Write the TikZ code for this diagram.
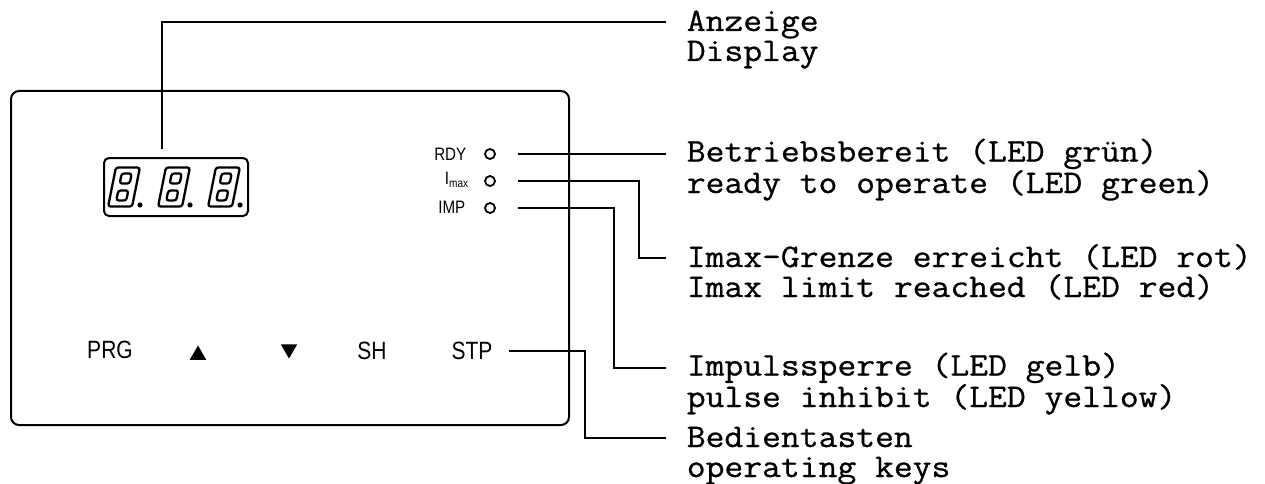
\documentclass[tikz,border=0pt]{standalone}
\usepackage{fontspec}
\setmainfont{Liberation Sans}[FakeStretch=0.84]
\newfontfamily\tyf{Latin Modern Mono}[FakeStretch=1.108,FakeBold=0.8]
\usetikzlibrary{shapes.geometric}
\begin{document}
\begin{tikzpicture}[x=1pt,y=-1pt,line width=1.6pt,
  lbl/.style={font=\tyf\fontsize{33}{30}\selectfont,anchor=base west,align=left,inner sep=0pt},
  key/.style={font=\fontsize{25}{26}\selectfont,inner sep=0pt},
  ledlbl/.style={font=\fontsize{18}{18}\selectfont,inner sep=0pt,anchor=east},
  led/.style={circle,draw,line width=1.8pt,minimum size=10pt,inner sep=0pt},
  tri/.style={regular polygon,regular polygon sides=3,fill=black,draw=none,minimum size=19pt,inner sep=0pt},
  leader/.style={line width=1.5pt},
  dig/.style={line width=2.3pt,rounded corners=2.5pt}]
\useasboundingbox (0,0) rectangle (1265,484);

% panel
\node[draw,line width=2pt,rounded corners=8pt,minimum width=558pt,minimum height=334pt,inner sep=0pt] (panel) at (290,258) {};
\node[draw,line width=2pt,rounded corners=5pt,minimum width=144pt,minimum height=58pt,inner sep=0pt] (disp) at (176,187) {};

% digits
\foreach \cx in {124,174,224}{
  \begin{scope}[shift={(\cx,187)},xslant=0.2]
    \draw[dig] (-12,-19.5) rectangle (12,19.5);
    \draw[dig] (-5,-13.5) rectangle (5,-3.5);
    \draw[dig] (-5,3.5) rectangle (5,13.5);
  \end{scope}
  \fill (\cx+16,205) circle (2.6pt);
}

% LEDs
\node[led] (rdy) at (490,154) {};
\node[led] (imx) at (490,181) {};
\node[led] (imp) at (490,208) {};
\node[ledlbl] (trdy) at (467,154) {RDY};
\node[ledlbl] (timx) at (469,180) {I\raisebox{-3.5pt}{\fontsize{12}{12}\selectfont max}};
\node[ledlbl] (timp) at (466,207) {IMP};

% keys
\node[key] (prg) at (110,350) {PRG};
\node[tri] (up) at (198,355) {};
\node[tri,shape border rotate=180] (dn) at (289,349) {};
\node[key] (sh) at (372,351) {SH};
\node[key] (stp) at (472,351) {STP};

% label anchors
\coordinate (cA) at (666,22);
\coordinate (cR) at (666,154);
\coordinate (cI) at (666,258);
\coordinate (cP) at (666,368);
\coordinate (cB) at (666,438);

\node[lbl] (lA) at (686,61) {Anzeige\\Display};
\node[lbl] (lR) at (686,193) {Betriebsbereit (LED grün)\\ready to operate (LED green)};
\node[lbl] (lI) at (686,297) {Imax-Grenze erreicht (LED rot)\\Imax limit reached (LED red)};
\node[lbl] (lP) at (686,407) {Impulssperre (LED gelb)\\pulse inhibit (LED yellow)};
\node[lbl] (lB) at (686,477) {Bedientasten\\operating keys};

% leaders
\draw[leader] ([xshift=-14pt,yshift=8pt]disp.north) |- (cA);
\draw[leader] ([xshift=22pt]rdy.east) -- (cR);
\draw[leader] ([xshift=22pt]imx.east) -- ++(121,0) |- (cI);
\draw[leader] ([xshift=22pt]imp.east) -- ++(96,0) |- (cP);
\draw[leader] ([xshift=16pt]stp.east) -- ++(76,0) |- (cB);
\end{tikzpicture}
\end{document}
